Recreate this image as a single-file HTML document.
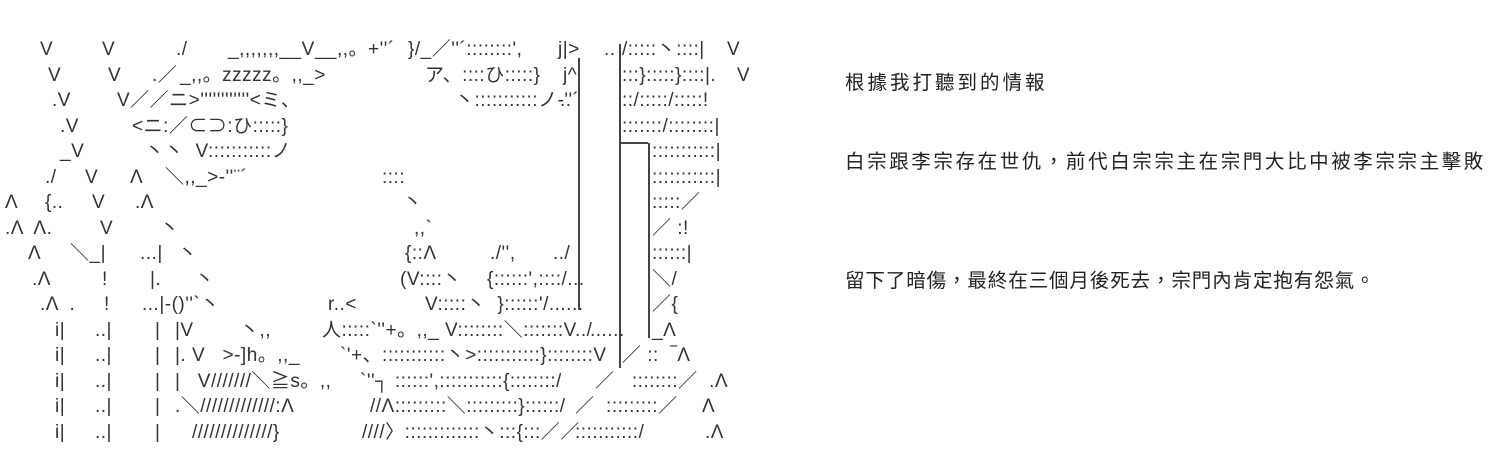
<!DOCTYPE html>
<html><head><meta charset="utf-8">
<style>
html,body{margin:0;padding:0;background:#fff;}
body{width:1500px;height:451px;position:relative;overflow:hidden;font-family:"Liberation Sans","Noto Sans CJK JP",sans-serif;color:#333;}
.a{position:absolute;white-space:pre;font-size:19px;line-height:20px;font-family:"Liberation Sans","Noto Sans CJK JP",sans-serif;letter-spacing:0.5px;}
.t{position:absolute;left:845px;font-size:19.5px;font-family:"Liberation Sans","Noto Sans CJK TC",sans-serif;color:#222;white-space:nowrap;}
.v{position:absolute;width:1.5px;background:#444;}
</style></head><body>
<div class="v" style="left:578px;top:58px;height:252px"></div>
<div class="v" style="left:619px;top:44px;height:324px"></div>
<div class="v" style="left:648px;top:143px;height:195px"></div>
<div class="v" style="left:619px;top:142px;height:1.5px;width:29px"></div>
<!-- line1 -->
<div class="a" style="left:40px;top:40px">V</div>
<div class="a" style="left:102px;top:40px">V</div>
<div class="a" style="left:176px;top:40px">./</div>
<div class="a" style="left:228px;top:40px">_,,,,,,,__V__,,。+''´</div>
<div class="a" style="left:408px;top:40px">}/_／''´::::::::',</div>
<div class="a" style="left:558px;top:40px">j|&gt;</div>
<div class="a" style="left:604px;top:40px">..</div>
<div class="a" style="left:622px;top:40px">/:::::丶::::|</div>
<div class="a" style="left:727px;top:40px">V</div>
<!-- line2 -->
<div class="a" style="left:48px;top:66px">V</div>
<div class="a" style="left:108px;top:66px">V</div>
<div class="a" style="left:152px;top:66px">.／</div>
<div class="a" style="left:180px;top:66px">_,,。zzzzz。,,_&gt;</div>
<div class="a" style="left:425px;top:66px">ア、::::ひ:::::}</div>
<div class="a" style="left:563px;top:66px">j^</div>
<div class="a" style="left:622px;top:66px">:::}:::::}::::|.</div>
<div class="a" style="left:737px;top:66px">V</div>
<!-- line3 -->
<div class="a" style="left:52px;top:91px">.V</div>
<div class="a" style="left:117px;top:91px">V／／ニ&gt;''''''''''''&lt;ミ、</div>
<div class="a" style="left:455px;top:91px">丶:::::::::::ノ-''´</div>
<div class="a" style="left:560px;top:91px">..</div>
<div class="a" style="left:622px;top:91px">::/:::::/:::::!</div>
<!-- line4 -->
<div class="a" style="left:60px;top:117px">.V</div>
<div class="a" style="left:132px;top:117px">&lt;ニ:／⊂⊃:ひ:::::}</div>
<div class="a" style="left:622px;top:117px">:::::::/::::::::|</div>
<!-- line5 -->
<div class="a" style="left:60px;top:142px">_V</div>
<div class="a" style="left:145px;top:142px">丶丶  V:::::::::::ノ</div>
<div class="a" style="left:652px;top:142px">:::::::::::|</div>
<!-- line6 -->
<div class="a" style="left:45px;top:168px">./</div>
<div class="a" style="left:85px;top:168px">V</div>
<div class="a" style="left:130px;top:168px">Λ</div>
<div class="a" style="left:165px;top:168px">＼,,_&gt;-''¨´</div>
<div class="a" style="left:382px;top:168px">::::</div>
<div class="a" style="left:652px;top:168px">:::::::::::|</div>
<!-- line7 -->
<div class="a" style="left:5px;top:193px">Λ</div>
<div class="a" style="left:45px;top:193px">{..</div>
<div class="a" style="left:92px;top:193px">V</div>
<div class="a" style="left:135px;top:193px">.Λ</div>
<div class="a" style="left:403px;top:193px">丶</div>
<div class="a" style="left:652px;top:193px">:::::／</div>
<!-- line8 -->
<div class="a" style="left:5px;top:219px">.Λ  Λ.</div>
<div class="a" style="left:100px;top:219px">V</div>
<div class="a" style="left:160px;top:219px">丶</div>
<div class="a" style="left:414px;top:219px">,,`</div>
<div class="a" style="left:652px;top:219px">／ :!</div>
<!-- line9 -->
<div class="a" style="left:28px;top:244px">Λ</div>
<div class="a" style="left:70px;top:244px">＼_|</div>
<div class="a" style="left:140px;top:244px">...|</div>
<div class="a" style="left:178px;top:244px">丶</div>
<div class="a" style="left:405px;top:244px">{::Λ</div>
<div class="a" style="left:490px;top:244px">./'',</div>
<div class="a" style="left:553px;top:244px">../</div>
<div class="a" style="left:652px;top:244px">::::::|</div>
<!-- line10 -->
<div class="a" style="left:32px;top:270px">.Λ</div>
<div class="a" style="left:102px;top:270px">!</div>
<div class="a" style="left:150px;top:270px">|.</div>
<div class="a" style="left:195px;top:270px">丶</div>
<div class="a" style="left:400px;top:270px">(V::::丶</div>
<div class="a" style="left:487px;top:270px">{::::::',::::/...</div>
<div class="a" style="left:652px;top:270px">＼/</div>
<!-- line11 -->
<div class="a" style="left:40px;top:295px">.Λ  .</div>
<div class="a" style="left:104px;top:295px">!</div>
<div class="a" style="left:142px;top:295px">...|-()''`丶</div>
<div class="a" style="left:328px;top:295px">r..&lt;</div>
<div class="a" style="left:425px;top:295px">V:::::丶  }::::::'/......</div>
<div class="a" style="left:652px;top:295px">／{</div>
<!-- line12 -->
<div class="a" style="left:55px;top:321px">i|</div>
<div class="a" style="left:95px;top:321px">..|</div>
<div class="a" style="left:155px;top:321px">|</div>
<div class="a" style="left:175px;top:321px">|V</div>
<div class="a" style="left:240px;top:321px">丶,,</div>
<div class="a" style="left:322px;top:321px">人:::::`''+。,,_ V::::::::＼:::::::V../</div>
<div class="a" style="left:590px;top:321px">......</div>
<div class="a" style="left:652px;top:321px">_Λ</div>
<!-- line13 -->
<div class="a" style="left:55px;top:346px">i|</div>
<div class="a" style="left:95px;top:346px">..|</div>
<div class="a" style="left:155px;top:346px">|</div>
<div class="a" style="left:175px;top:346px">|. V   &gt;-]h。,,_</div>
<div class="a" style="left:340px;top:346px">`'+、:::::::::::丶&gt;:::::::::::}::::::::V</div>
<div class="a" style="left:622px;top:346px">／ ::  ‾Λ</div>
<!-- line14 -->
<div class="a" style="left:55px;top:372px">i|</div>
<div class="a" style="left:95px;top:372px">..|</div>
<div class="a" style="left:155px;top:372px">|</div>
<div class="a" style="left:175px;top:372px">|   V///////＼≧s。,,</div>
<div class="a" style="left:360px;top:372px">`''┐ ::::::',:::::::::::{::::::::/</div>
<div class="a" style="left:595px;top:372px">／   ::::::::／  .Λ</div>
<!-- line15 -->
<div class="a" style="left:55px;top:397px">i|</div>
<div class="a" style="left:95px;top:397px">..|</div>
<div class="a" style="left:155px;top:397px">|</div>
<div class="a" style="left:175px;top:397px">.＼/////////////:Λ</div>
<div class="a" style="left:370px;top:397px">//Λ:::::::::＼:::::::::}::::::/</div>
<div class="a" style="left:575px;top:397px">／  :::::::::／</div>
<div class="a" style="left:702px;top:397px">Λ</div>
<!-- line16 -->
<div class="a" style="left:55px;top:423px">i|</div>
<div class="a" style="left:95px;top:423px">..|</div>
<div class="a" style="left:155px;top:423px">|</div>
<div class="a" style="left:192px;top:423px">//////////////}</div>
<div class="a" style="left:362px;top:423px">////〉:::::::::::::丶:::{:::／／</div>
<div class="a" style="left:575px;top:423px">:::::::::::/</div>
<div class="a" style="left:705px;top:423px">.Λ</div>

<div class="t" style="top:66px;letter-spacing:3px">根據我打聽到的情報</div>
<div class="t" style="top:145px;letter-spacing:2.6px">白宗跟李宗存在世仇，前代白宗宗主在宗門大比中被李宗宗主擊敗</div>
<div class="t" style="top:264px;letter-spacing:0.9px">留下了暗傷，最終在三個月後死去，宗門內肯定抱有怨氣。</div>
</body></html>
